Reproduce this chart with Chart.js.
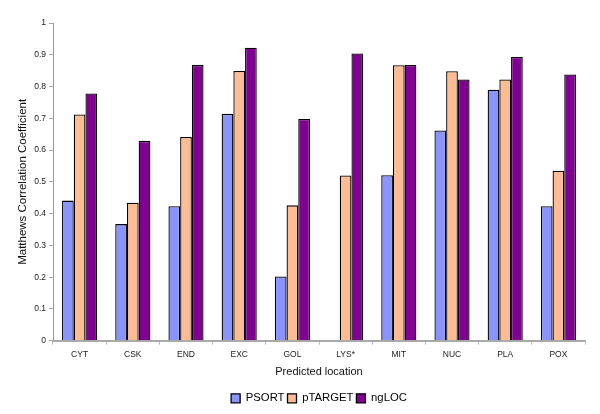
<!DOCTYPE html>
<html>
<head>
<meta charset="utf-8">
<script src="https://cdn.jsdelivr.net/npm/chart.js@4"></script>
<style>
  html, body { margin: 0; padding: 0; background: #fff; }
  #wrap { width: 600px; height: 414px; }
</style>
</head>
<body>
<div id="wrap"><canvas id="c" width="600" height="414"></canvas></div>
<script>
const categories = ['CYT', 'CSK', 'END', 'EXC', 'GOL', 'LYS*', 'MIT', 'NUC', 'PLA', 'POX'];
const psort   = [0.441, 0.367, 0.423, 0.714, 0.202, 0,     0.521, 0.662, 0.790, 0.423];
const ptarget = [0.712, 0.434, 0.641, 0.849, 0.426, 0.520, 0.867, 0.848, 0.822, 0.535];
const ngloc   = [0.778, 0.629, 0.868, 0.922, 0.698, 0.904, 0.868, 0.822, 0.893, 0.838];
const seriesNames = ['PSORT', 'pTARGET', 'ngLOC'];

const FONT = '"Liberation Sans", Arial, Helvetica, sans-serif';

const centerLegendOnPlot = {
  id: 'centerLegendOnPlot',
  afterLayout(chart) {
    const lg = chart.legend;
    if (!lg) return;
    const shift = (chart.chartArea.left + chart.chartArea.right) / 2 - (lg.left + lg.right) / 2;
    lg.left += shift;
    lg.right += shift;
  }
};

new Chart(document.getElementById('c'), {
  type: 'bar',
  data: {
    labels: categories,
    datasets: [
      { label: seriesNames[0], data: psort,   backgroundColor: '#8a94ff', borderColor: '#000', borderWidth: 1.3 },
      { label: seriesNames[1], data: ptarget, backgroundColor: '#ffbb92', borderColor: '#000', borderWidth: 1.3 },
      { label: seriesNames[2], data: ngloc,   backgroundColor: '#7f0091', borderColor: '#000', borderWidth: 1.3 }
    ]
  },
  plugins: [centerLegendOnPlot],
  options: {
    responsive: false,
    animation: false,
    devicePixelRatio: 1,
    layout: { padding: { left: 0, right: 15, top: 23, bottom: 0 } },
    datasets: { bar: { categoryPercentage: 0.66, barPercentage: 1.0 } },
    plugins: {
      tooltip: { enabled: false },
      legend: {
        position: 'bottom',
        labels: {
          boxWidth: 9, boxHeight: 9, padding: 3,
          color: '#000',
          font: { family: FONT, size: 11.3 }
        }
      }
    },
    scales: {
      x: {
        afterFit: s => { s.height = 49; },
        grid: { display: true, drawOnChartArea: false, drawTicks: true, tickLength: 4, color: '#bbb', offset: true },
        border: { display: true, color: '#aaa', width: 2 },
        ticks: { color: '#222', padding: 5, font: { family: FONT, size: 8.5 } },
        title: { display: true, text: 'Predicted location', color: '#111',
                 font: { family: FONT, size: 11 }, padding: { top: 0, bottom: 11.4 } }
      },
      y: {
        min: 0, max: 1,
        afterFit: s => { s.width = 53; },
        grid: { display: true, drawOnChartArea: false, drawTicks: true, tickLength: 4, color: '#aaa' },
        border: { display: true, color: '#999', width: 1 },
        ticks: { stepSize: 0.1, color: '#222', padding: 3, font: { family: FONT, size: 8.5 },
                 callback: v => String(+v.toFixed(1)) },
        title: { display: true, text: 'Matthews Correlation Coefficient', color: '#111',
                 font: { family: FONT, size: 11.5 }, padding: { top: 16, bottom: 0 } }
      }
    }
  }
});
</script>
</body>
</html>
